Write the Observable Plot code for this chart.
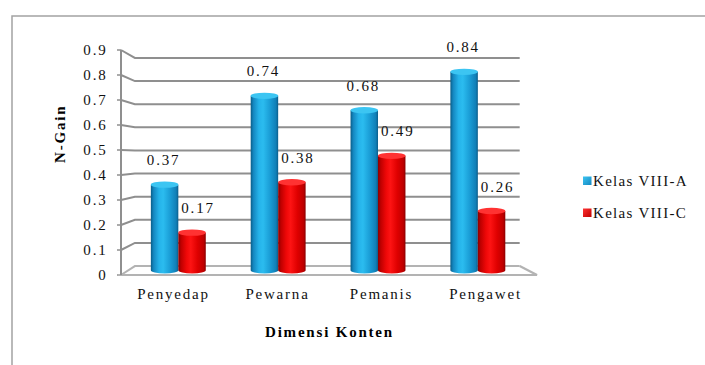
<!DOCTYPE html>
<html>
<head>
<meta charset="utf-8">
<script src="https://cdn.jsdelivr.net/npm/d3@7"></script>
<script src="https://cdn.jsdelivr.net/npm/@observablehq/plot@0.6"></script>
<style>
  html, body { margin: 0; padding: 0; background: #fff; }
  #chart svg { display: block; }
</style>
</head>
<body>
<div id="chart"></div>
<script>
// N-Gain per content dimension, two classes
const categories = ["Penyedap", "Pewarna", "Pemanis", "Pengawet"];
const seriesNames = ["Kelas VIII-A", "Kelas VIII-C"];
const kelasA = [0.37, 0.74, 0.68, 0.84];
const kelasC = [0.17, 0.38, 0.49, 0.26];
const yTicks = [0, 0.1, 0.2, 0.3, 0.4, 0.5, 0.6, 0.7, 0.8, 0.9];
const yTitle = "N-Gain";
const xTitle = "Dimensi Konten";

const rows = categories.flatMap((category, i) => [
  {category, kelas: seriesNames[0], value: kelasA[i], side: 0},
  {category, kelas: seriesNames[1], value: kelasC[i], side: 1}
]);

// 3D view: points recede toward a vanishing point inside the frame
const VANISH = [0.445, 0.47];   // vanishing point, as fractions of the frame
const WALL_DEPTH = 0.075;       // back wall depth
const BAR_DEPTH = 0.04;         // depth at which the cylinders stand
const BAR_FRACTION = 0.275;     // cylinder width as a share of the band
const CAP_RY = 3.2;             // vertical radius of the cylinder ellipses

const palette = {
  [seriesNames[0]]: {
    body: [[0, "#0a5d88"], [0.1, "#1487c0"], [0.3, "#25b3ea"], [0.45, "#2bbcef"], [0.7, "#1a9dd6"], [0.92, "#117fb7"], [1, "#0b5d8a"]],
    cap: "#3cc5f2"
  },
  [seriesNames[1]]: {
    body: [[0, "#880000"], [0.1, "#bf0000"], [0.3, "#ef0808"], [0.45, "#fd1313"], [0.7, "#df0000"], [0.92, "#be0000"], [1, "#8a0000"]],
    cap: "#ff3232"
  }
};

const FONT = "'Liberation Serif', 'Times New Roman', serif";
const INK = "#111";
const GRID = "#8f8f8f";
const FLOOR = "#b3b3b3";

function frameOf(dim) {
  const x0 = dim.marginLeft, x1 = dim.width - dim.marginRight;
  const y0 = dim.marginTop, y1 = dim.height - dim.marginBottom;
  const vx = x0 + VANISH[0] * (x1 - x0), vy = y0 + VANISH[1] * (y1 - y0);
  const project = (x, y, k) => [x + k * (vx - x), y + k * (vy - y)];
  return {x0, x1, y0, y1, project};
}

function bandWidth(x) {
  if (x.bandwidth) return x.bandwidth();
  const r = x.range();
  return Math.abs(r[1] - r[0]) / categories.length;
}
function bandCenter(x, c) {
  return x(c) + (x.bandwidth ? x.bandwidth() / 2 : 0);
}

// Border, side wall, back wall grid, floor and the value axis
function walls(index, scales, values, dim) {
  const {y} = scales;
  const {x0, x1, project} = frameOf(dim);
  const g = d3.create("svg:g").attr("fill", "none");
  g.append("rect")
    .attr("x", 12).attr("y", 16)
    .attr("width", dim.width).attr("height", dim.height)
    .attr("stroke", "#a3a3a3").attr("stroke-width", 1.5);
  for (const t of yTicks) {
    const fy = y(t);
    const [bx0, by] = project(x0, fy, WALL_DEPTH);
    const [bx1] = project(x1, fy, WALL_DEPTH);
    g.append("path")
      .attr("d", `M${x0},${fy}L${bx0},${by}L${bx1},${by}`)
      .attr("stroke", t === 0 ? FLOOR : GRID)
      .attr("stroke-width", 2);
    g.append("path")
      .attr("d", `M${x0 - 4},${fy}H${x0}`)
      .attr("stroke", GRID).attr("stroke-width", 1.5);
  }
  // floor front and right edges
  const fy0 = y(0);
  const [rbx, rby] = project(x1, fy0, WALL_DEPTH);
  g.append("path")
    .attr("d", `M${x0 - 3},${fy0}H${x1}L${rbx},${rby}`)
    .attr("stroke", FLOOR).attr("stroke-width", 2.2);
  // value axis line
  g.append("path")
    .attr("d", `M${x0},${y(yTicks[yTicks.length - 1])}V${fy0}`)
    .attr("stroke", GRID).attr("stroke-width", 2);
  return g.node();
}

// Shaded cylinders with their value labels, plus the legend
function cylinders(index, scales, values, dim) {
  const {x, y} = scales;
  const {x1, y0, y1, project} = frameOf(dim);
  const bw = bandWidth(x);
  const half = BAR_FRACTION * bw / 2;
  const g = d3.create("svg:g");
  const defs = g.append("defs");
  seriesNames.forEach((name, i) => {
    const lg = defs.append("linearGradient")
      .attr("id", `cyl-body-${i}`).attr("x1", 0).attr("x2", 1).attr("y1", 0).attr("y2", 0);
    for (const [o, c] of palette[name].body) lg.append("stop").attr("offset", o).attr("stop-color", c);
    const sg = defs.append("linearGradient")
      .attr("id", `cyl-swatch-${i}`).attr("x1", 0).attr("x2", 1).attr("y1", 0).attr("y2", 1);
    sg.append("stop").attr("offset", 0).attr("stop-color", palette[name].cap);
    sg.append("stop").attr("offset", 1).attr("stop-color", palette[name].body[1][1]);
  });

  for (const d of rows) {
    const i = seriesNames.indexOf(d.kelas);
    const cx = bandCenter(x, d.category) + (d.side ? half : -half);
    const [lx, ty] = project(cx - half, y(d.value), BAR_DEPTH);
    const [rx] = project(cx + half, y(d.value), BAR_DEPTH);
    const [, by] = project(cx, y(0), BAR_DEPTH);
    const ex = (rx - lx) / 2, mx = (lx + rx) / 2, cy = ty + CAP_RY;
    g.append("path")
      .attr("d", `M${lx},${cy}V${by}A${ex},${CAP_RY} 0 0 0 ${rx},${by}V${cy}Z`)
      .attr("fill", `url(#cyl-body-${i})`);
    g.append("ellipse")
      .attr("cx", mx).attr("cy", cy).attr("rx", ex).attr("ry", CAP_RY)
      .attr("fill", palette[d.kelas].cap);
    g.append("text")
      .attr("x", mx + (d.side ? 6 : -1))
      .attr("y", ty - 21.5)
      .attr("dy", "0.35em")
      .attr("text-anchor", "middle")
      .attr("fill", INK)
      .attr("font-family", FONT)
      .attr("font-size", 15)
      .text(d.value.toFixed(2));
  }

  // legend
  const midY = (y0 + y1) / 2;
  seriesNames.forEach((name, i) => {
    const ly = midY + 18.5 + i * 32;
    g.append("rect")
      .attr("x", x1 + 46).attr("y", ly - 4.5)
      .attr("width", 8.5).attr("height", 8.5)
      .attr("fill", `url(#cyl-swatch-${i})`);
    g.append("text")
      .attr("x", x1 + 56).attr("y", ly)
      .attr("dy", "0.35em")
      .attr("text-anchor", "start")
      .attr("fill", INK)
      .attr("font-family", FONT)
      .attr("font-size", 15)
      .attr("letter-spacing", "1.3px")
      .text(name);
  });
  return g.node();
}

const chart = Plot.plot({
  width: 705,
  height: 365,
  marginLeft: 121,
  marginRight: 168,
  marginTop: 50,
  marginBottom: 90,
  style: {
    fontFamily: FONT,
    fontSize: "15px",
    letterSpacing: "1.8px",
    color: INK,
    background: "#fff",
    overflow: "visible"
  },
  x: {type: "band", domain: categories, padding: 0, axis: null},
  y: {domain: [0, 0.9], axis: null},
  marks: [
    walls,
    cylinders,
    Plot.text(categories, {x: d => d, frameAnchor: "bottom", dy: 23, fontSize: 15, fill: INK}),
    Plot.text(yTicks, {
      y: d => d,
      text: d => (d === 0 ? "0" : d.toFixed(1)),
      frameAnchor: "left",
      textAnchor: "end",
      dx: -14,
      fontSize: 15,
      fill: INK
    }),
    Plot.text([yTitle], {frameAnchor: "left", rotate: -90, dx: -61, fontWeight: "bold", fontSize: 15, fill: "#000"}),
    Plot.text([xTitle], {frameAnchor: "bottom", dy: 61, fontWeight: "bold", fontSize: 15, fill: "#000"})
  ]
});

document.getElementById("chart").appendChild(chart);
</script>
</body>
</html>
